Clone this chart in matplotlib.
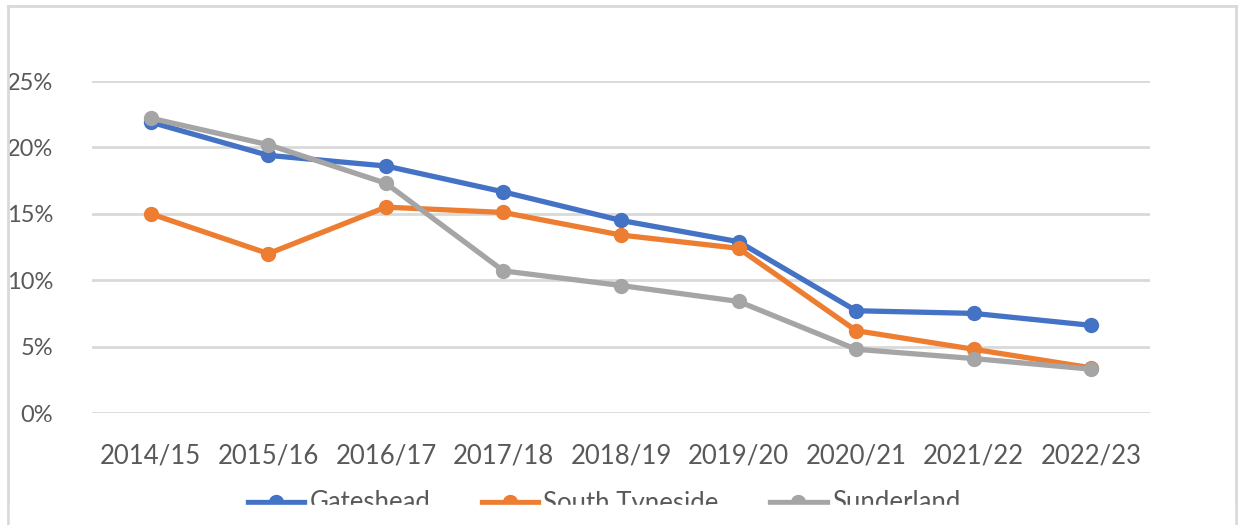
import numpy as np
import matplotlib.pyplot as plt
from matplotlib.lines import Line2D
from matplotlib.patches import Rectangle

# data
years = ['2014/15', '2015/16', '2016/17', '2017/18', '2018/19',
         '2019/20', '2020/21', '2021/22', '2022/23']
gateshead = [21.9, 19.4, 18.6, 16.65, 14.5, 12.9, 7.7, 7.5, 6.6]
south_tyneside = [15.0, 12.0, 15.5, 15.1, 13.4, 12.4, 6.2, 4.8, 3.4]
sunderland = [22.2, 20.2, 17.3, 10.7, 9.6, 8.4, 4.8, 4.1, 3.3]

series = [('Gateshead', gateshead, '#4472C4'),
          ('South Tyneside', south_tyneside, '#ED7D31'),
          ('Sunderland', sunderland, '#A5A5A5')]

plt.rcParams['font.family'] = ['Lato', 'DejaVu Sans']
W, H = 1240, 525
fig = plt.figure(figsize=(W / 100, H / 100), dpi=100)
# plot area in pixels: x 92..1150, y 81..413
ax = fig.add_axes([92 / W, 1 - 413 / H, (1150 - 92) / W, (413 - 81) / H])

x = np.arange(len(years))
for name, vals, col in series:
    ax.plot(x, vals, color=col, lw=3.8, marker='o', ms=10,
            solid_capstyle='round', label=name, zorder=3)

ax.set_xlim(-0.5, len(years) - 0.5)
ax.set_ylim(0, 25)
ax.set_yticks(np.arange(0, 26, 5))
ax.set_yticklabels([f'{v}%' for v in range(0, 26, 5)])
ax.set_xticks(x)
ax.set_xticklabels(years)
ax.grid(axis='y', color='#D9D9D9', lw=2, zorder=0)
ax.tick_params(length=0, labelsize=18.5, labelcolor='#595959')
ax.tick_params(axis='y', pad=28, labelsize=17)
ax.tick_params(axis='x', pad=22)
for s in ax.spines.values():
    s.set_visible(False)

handles = [Line2D([], [], color=c, lw=3.8, marker='o', ms=10) for _, _, c in series]
fig.legend(handles, [n for n, _, _ in series], loc='center',
           bbox_to_anchor=(0.487, 1 - 503 / H), ncol=3, frameon=False,
           fontsize=18.5, labelcolor='#595959', handlelength=2.2,
           handletextpad=0.2, columnspacing=2.0)

# chart border (light grey), bottom edge cut off
bc = '#D9D9D9'
fig.add_artist(Line2D([8 / W, 1236 / W], [1 - 6 / H, 1 - 6 / H], color=bc, lw=2))
fig.add_artist(Line2D([8 / W, 8 / W], [0, 1 - 6 / H], color=bc, lw=2))
fig.add_artist(Line2D([1236 / W, 1236 / W], [0, 1 - 6 / H], color=bc, lw=2))
# the picture is clipped just below the legend
fig.add_artist(Rectangle((10 / W, 0), 1224 / W, 20 / H, color='white', zorder=10))

plt.savefig('out.png', dpi=100)
